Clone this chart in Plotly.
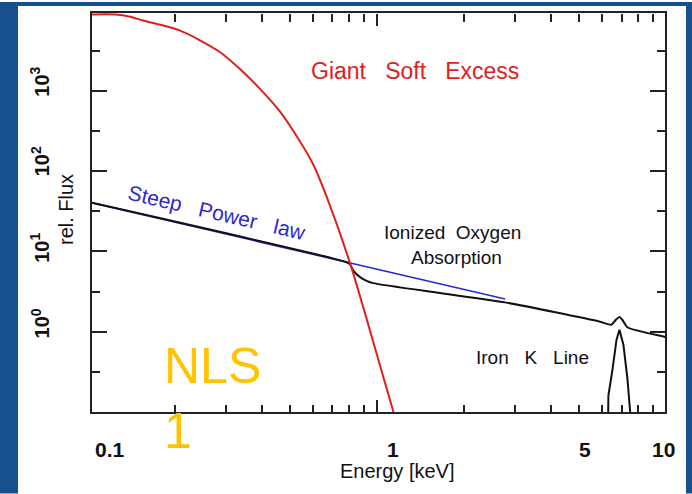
import plotly.graph_objects as go

# Soft excess component (red)
energy_soft = [0.1034, 0.1243, 0.14, 0.155, 0.18, 0.2076, 0.244, 0.2868, 0.3357, 0.3936,
               0.4618, 0.5414, 0.6008, 0.6716, 0.8064, 1.049, 1.136, 1.2]
flux_soft = [8930, 8930, 8400, 7530, 6600, 5660, 4270, 3030, 1870, 1060,
             551, 234, 122, 46.5, 7.1, 0.278, 0.103, 0.05]

# Steep power law (blue)
energy_pl = [0.1034, 0.806, 2.77]
flux_pl = [40.3, 7.18, 2.55]

# Total continuum with ionized oxygen absorption and iron bump (black)
energy_total = [0.1034, 0.78, 0.806, 0.826, 0.873, 0.924, 0.969, 1.65, 2.77,
                5.90, 6.45, 6.7, 6.88, 7.05, 7.35, 9.83, 10.0]
flux_total = [40.3, 7.38, 6.9, 5.82, 4.78, 4.27, 4.03, 3.03, 2.32,
              1.33, 1.22, 1.42, 1.53, 1.40, 1.13, 0.867, 0.85]

# Iron K line profile (black)
energy_fe = [6.28, 6.30, 6.51, 6.72, 6.88, 7.10, 7.33, 7.51]
flux_fe = [0.05, 0.16, 0.34, 0.79, 1.06, 0.69, 0.26, 0.09]

x_major = [1, 10]
x_minor = [0.2, 0.3, 0.4, 0.5, 0.6, 0.7, 0.8, 0.9, 2, 3, 4, 5, 6, 7, 8, 9]
y_major = [1, 10, 100, 1000]
y_minor = [10 ** -0.5, 10 ** 0.5, 10 ** 1.5, 10 ** 2.5, 10 ** 3.5]

x_tick_labels = ["0.1", "1", "5", "10"]
y_tick_labels = ["10<sup>0</sup>", "10<sup>1</sup>", "10<sup>2</sup>", "10<sup>3</sup>"]

W, H = 692, 494
L, R, T, B = 92, 27, 11, 82
PW, PH = W - L - R, H - T - B


def px(x):
    return (x - L) / PW


def py(y):
    return (H - B - y) / PH


fig = go.Figure()
fig.add_trace(go.Scatter(x=energy_pl, y=flux_pl, mode="lines",
                         line=dict(color="#2b2bd0", width=1.6), hoverinfo="skip"))
fig.add_trace(go.Scatter(x=energy_total, y=flux_total, mode="lines",
                         line=dict(color="#111111", width=2, shape="spline", smoothing=0.6),
                         hoverinfo="skip"))
fig.add_trace(go.Scatter(x=energy_fe, y=flux_fe, mode="lines",
                         line=dict(color="#111111", width=2), hoverinfo="skip"))
fig.add_trace(go.Scatter(x=energy_soft, y=flux_soft, mode="lines",
                         line=dict(color="#e0201c", width=2, shape="spline", smoothing=0.8),
                         hoverinfo="skip"))
# invisible carrier so the top/right tick axes are drawn
fig.add_trace(go.Scatter(x=energy_pl, y=flux_pl, mode="lines", xaxis="x2", yaxis="y2",
                         line=dict(width=0), opacity=0, hoverinfo="skip"))

x_range = [-0.9855, 0.995]
y_range = [-1.0, 3.97]
ink = "#222222"

fig.update_layout(
    xaxis=dict(type="log", range=x_range, tickvals=x_major, ticks="inside", ticklen=12,
               tickcolor=ink, tickwidth=2, showticklabels=False, showgrid=False,
               minor=dict(tickvals=x_minor, ticks="inside", ticklen=7, tickcolor=ink,
                          tickwidth=2, showgrid=False),
               showline=True, linecolor=ink, linewidth=2, mirror=True),
    yaxis=dict(type="log", range=y_range, tickvals=y_major, ticks="inside", ticklen=15,
               tickcolor=ink, tickwidth=2, showticklabels=False, showgrid=False,
               minor=dict(tickvals=y_minor, ticks="inside", ticklen=8, tickcolor=ink,
                          tickwidth=2, showgrid=False),
               showline=True, linecolor=ink, linewidth=2, mirror=True),
    xaxis2=dict(type="log", range=x_range, tickvals=x_major, ticks="inside", ticklen=12,
                tickcolor=ink, tickwidth=2, showticklabels=False, showgrid=False,
                minor=dict(tickvals=x_minor, ticks="inside", ticklen=8, tickcolor=ink,
                           tickwidth=2, showgrid=False),
                overlaying="x", side="top", anchor="free", position=1.0, layer="above traces"),
    yaxis2=dict(type="log", range=y_range, tickvals=y_major, ticks="inside", ticklen=15,
                tickcolor=ink, tickwidth=2, showticklabels=False, showgrid=False,
                minor=dict(tickvals=y_minor, ticks="inside", ticklen=8, tickcolor=ink,
                           tickwidth=2, showgrid=False),
                overlaying="y", side="right", anchor="free", position=1.0, layer="above traces"),
)

ann = []
label_font = dict(family="Liberation Sans", size=21, color="#111111")
for txt, xc in zip(x_tick_labels, [110, 393, 585, 663]):
    ann.append(dict(text="<b>" + txt + "</b>", x=px(xc), y=py(450), xref="paper", yref="paper",
                    xanchor="center", yanchor="middle", showarrow=False, font=label_font))
for txt, yc in zip(y_tick_labels, [323, 247, 160, 80]):
    ann.append(dict(text="<b>" + txt + "</b>", x=px(40), y=py(yc), xref="paper", yref="paper",
                    xanchor="center", yanchor="middle", showarrow=False, textangle=-90,
                    font=dict(family="Liberation Sans", size=20, color="#111111")))

ann.append(dict(text="Energy [keV]", x=px(397), y=py(471), xref="paper", yref="paper",
                xanchor="center", yanchor="middle", showarrow=False,
                font=dict(family="Liberation Sans", size=20, color="#111111")))
ann.append(dict(text="rel. Flux", x=px(66), y=py(209), xref="paper", yref="paper",
                xanchor="center", yanchor="middle", showarrow=False, textangle=-90,
                font=dict(family="Liberation Sans", size=20, color="#111111")))

nb = "\u00a0"
ann.append(dict(text="Giant" + nb * 3 + "Soft" + nb * 3 + "Excess", x=px(415), y=py(69),
                xref="paper", yref="paper", xanchor="center", yanchor="middle", showarrow=False,
                font=dict(family="Liberation Sans", size=23, color="#e0201c")))
ann.append(dict(text="Steep" + nb * 3 + "Power" + nb * 3 + "law", x=px(217), y=py(212),
                xref="paper", yref="paper", xanchor="center", yanchor="middle", showarrow=False,
                textangle=13, font=dict(family="Liberation Sans", size=21, color="#2b2bd0")))
ann.append(dict(text="Ionized" + nb * 2 + "Oxygen", x=px(452), y=py(232),
                xref="paper", yref="paper", xanchor="center", yanchor="middle", showarrow=False,
                font=dict(family="Liberation Sans", size=19, color="#111111")))
ann.append(dict(text="Absorption", x=px(456), y=py(257),
                xref="paper", yref="paper", xanchor="center", yanchor="middle", showarrow=False,
                font=dict(family="Liberation Sans", size=19, color="#111111")))
ann.append(dict(text="Iron" + nb * 3 + "K" + nb * 3 + "Line", x=px(532), y=py(357),
                xref="paper", yref="paper", xanchor="center", yanchor="middle", showarrow=False,
                font=dict(family="Liberation Sans", size=19, color="#111111")))
ann.append(dict(text="NLS<br>1", x=px(162), y=py(398), xref="paper", yref="paper",
                xanchor="left", yanchor="middle", align="left", showarrow=False,
                font=dict(family="Liberation Sans", size=50, color="#ffc400")))

# blue slide background around the white chart panel
slide_blue = "#17508f"
shapes = [
    dict(type="rect", xref="paper", yref="paper", layer="above",
         x0=px(0), x1=px(18), y0=py(H), y1=py(0), fillcolor=slide_blue, line=dict(width=0)),
    dict(type="rect", xref="paper", yref="paper", layer="above",
         x0=px(0), x1=px(W), y0=py(4), y1=py(0), fillcolor=slide_blue, line=dict(width=0)),
    dict(type="rect", xref="paper", yref="paper", layer="above",
         x0=px(686), x1=px(W), y0=py(H), y1=py(0), fillcolor=slide_blue, line=dict(width=0)),
]

fig.update_layout(width=W, height=H, margin=dict(l=L, r=R, t=T, b=B),
                  paper_bgcolor="white", plot_bgcolor="white",
                  showlegend=False, annotations=ann, shapes=shapes)

fig.write_html("out.html")
